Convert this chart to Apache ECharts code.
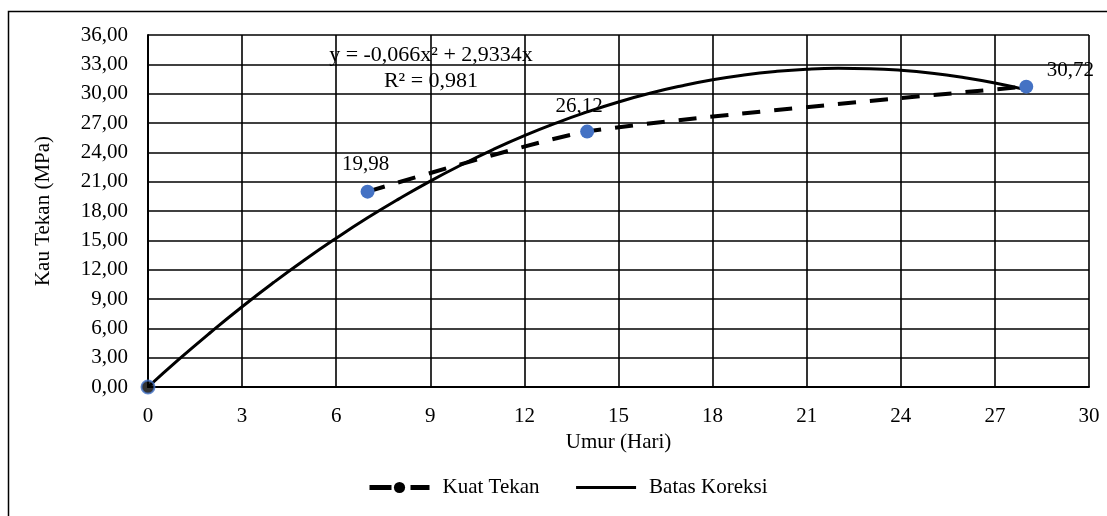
<!DOCTYPE html>
<html>
<head>
<meta charset="utf-8">
<script src="https://cdn.jsdelivr.net/npm/echarts@6/dist/echarts.min.js"></script>
<style>html,body{margin:0;padding:0;background:#fff}#c{width:1107px;height:516px}</style>
</head>
<body>
<div id="c"></div>
<script>
// Measured compressive strength (Kuat Tekan)
var umur = [7, 14, 28];
var kuatTekan = [19.98, 26.12, 30.72];
// Origin point
var originPoint = [[0, 0]];
// Correction limit curve (Batas Koreksi)
var koreksiX = [0,1,2,3,4,5,6,7,8,9,10,11,12,13,14,15,16,17,18,19,20,21,22,23,24,25,26,27,28];
var koreksiY = [0,2.87,5.60,8.21,10.68,13.02,15.22,17.30,19.24,21.06,22.73,24.28,25.70,26.98,28.13,29.15,30.04,30.79,31.42,31.91,32.27,32.50,32.59,32.55,32.39,32.09,31.65,31.09,30.39];
var xTicks = {min: 0, max: 30, interval: 3};
var yTicks = {min: 0, max: 36, interval: 3};
var equationText = 'y = -0,066x² + 2,9334x';
var r2Text = 'R² = 0,981';

var FONT = '"Liberation Serif", "Times New Roman", serif';
var FS = 21;
function comma(v){ return v.toFixed(2).replace('.', ','); }

var chart = echarts.init(document.getElementById('c'));
var labelOffsets = [[-2, -2], [-8, 0], [44, 9]];
chart.setOption({
  animation: false,
  textStyle: {fontFamily: FONT},
  grid: {left: 148, right: 18, top: 35, bottom: 129, show: false},
  xAxis: {
    type: 'value', min: xTicks.min, max: xTicks.max, interval: xTicks.interval,
    name: 'Umur (Hari)', nameLocation: 'middle', nameGap: 42,
    nameTextStyle: {fontFamily: FONT, fontSize: FS, color: '#000'},
    axisLine: {show: true, lineStyle: {color: '#000', width: 2}},
    axisTick: {show: false},
    axisLabel: {fontFamily: FONT, fontSize: FS, color: '#000', margin: 19},
    splitLine: {show: true, lineStyle: {color: '#000', width: 1.6}}
  },
  yAxis: {
    type: 'value', min: yTicks.min, max: yTicks.max, interval: yTicks.interval,
    name: 'Kau Tekan (MPa)', nameLocation: 'middle', nameGap: 94,
    nameTextStyle: {fontFamily: FONT, fontSize: FS, color: '#000'},
    axisLine: {show: true, lineStyle: {color: '#000', width: 2}},
    axisTick: {show: false},
    axisLabel: {fontFamily: FONT, fontSize: FS, color: '#000', margin: 20, formatter: comma},
    splitLine: {show: true, lineStyle: {color: '#000', width: 1.6}}
  },
  legend: {
    left: 362, top: 472, itemWidth: 60, itemHeight: 14, itemGap: 35,
    textStyle: {fontFamily: FONT, fontSize: FS, color: '#000', padding: [0, 0, 0, 8]},
    data: [
      {name: 'Kuat Tekan', itemStyle: {color: '#000', borderWidth: 0},
        lineStyle: {color: '#000', width: 5, type: [22, 19]}},
      {name: 'Batas Koreksi', itemStyle: {color: 'rgba(0,0,0,0)', borderWidth: 0},
        lineStyle: {color: '#000', width: 3, type: 'solid'}}
    ]
  },
  series: [
    {
      name: 'Batas Koreksi', type: 'line', smooth: true, showSymbol: false, symbol: 'none',
      data: koreksiX.map(function(x, i){ return [x, koreksiY[i]]; }),
      lineStyle: {color: '#000', width: 3}, itemStyle: {color: '#000'}, z: 3
    },
    {
      name: 'Kuat Tekan', type: 'line', smooth: 0.2, symbol: 'circle', symbolSize: 14,
      data: umur.map(function(x, i){
        return {value: [x, kuatTekan[i]], label: {offset: labelOffsets[i]}};
      }),
      lineStyle: {color: '#000', width: 4, type: [18, 14]},
      itemStyle: {color: '#4472C4'},
      label: {show: true, position: 'top', distance: 8, fontFamily: FONT, fontSize: FS, color: '#000',
        formatter: function(p){ return comma(p.value[1]); }},
      z: 4
    },
    {
      name: 'origin', type: 'scatter', symbol: 'circle', symbolSize: 13,
      data: originPoint,
      itemStyle: {color: '#000', borderColor: '#4472C4', borderWidth: 2}, z: 5
    }
  ],
  graphic: [
    {type: 'rect', shape: {x: 8.5, y: 11.5, width: 1300, height: 800}, style: {fill: 'none', stroke: '#000', lineWidth: 1.5}, silent: true, z: -1},
    {type: 'text', position: [431, 55], style: {text: equationText, font: '22px ' + FONT, fill: '#000', textAlign: 'center', textVerticalAlign: 'middle'}, z: 10},
    {type: 'text', position: [431, 81], style: {text: r2Text, font: '22px ' + FONT, fill: '#000', textAlign: 'center', textVerticalAlign: 'middle'}, z: 10}
  ]
});
</script>
</body>
</html>
